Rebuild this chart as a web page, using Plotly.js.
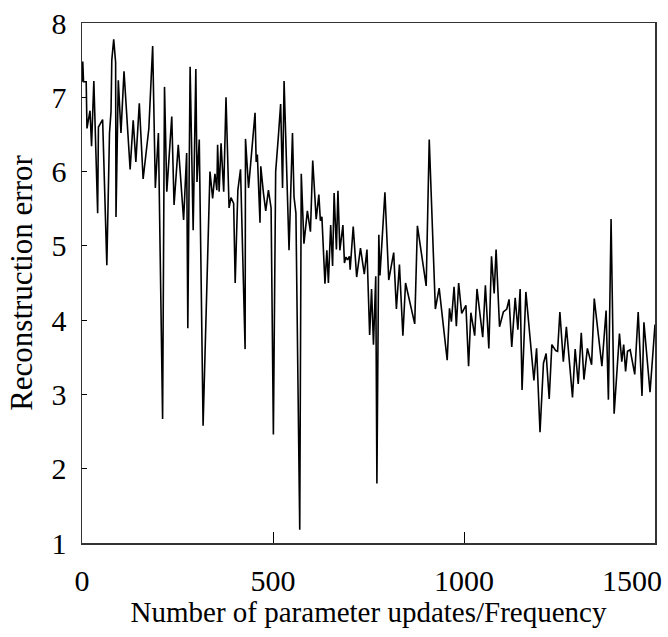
<!DOCTYPE html>
<html>
<head>
<meta charset="utf-8">
<script src="https://cdn.plot.ly/plotly-3.0.1.min.js"></script>
<style>html,body{margin:0;padding:0;background:#fff;}#chart{width:668px;height:637px;}</style>
</head>
<body>
<div id="chart"></div>
<script>
// Number of parameter updates (x) and reconstruction error (y)
const updates = [0,2,4,11,13,21,25,31,41,43,54,65,72,76,78,83,88,89,95,102,110,126,134,141,150,160,175,185,192,200,211,216,222,235,241,252,266,274,277,283,291,298,301,307,317,335,342,348,353,355,359,364,371,377,385,390,397,401,408,415,427,428,436,444,453,456,459,466,468,475,481,488,495,501,507,514,520,525,529,542,551,555,560,570,572,574,581,590,598,604,613,620,624,628,636,641,645,651,656,660,666,670,675,683,687,691,695,700,702,710,719,729,739,746,753,758,763,769,772,777,780,793,803,816,818,823,831,840,847,871,878,901,909,925,935,956,962,967,974,980,986,994,1005,1012,1018,1028,1034,1049,1056,1065,1072,1079,1084,1093,1103,1112,1118,1125,1134,1141,1147,1152,1162,1183,1190,1199,1208,1215,1223,1230,1240,1245,1251,1260,1268,1284,1291,1299,1307,1314,1323,1334,1341,1361,1372,1378,1385,1393,1407,1413,1418,1423,1428,1435,1447,1456,1466,1471,1487,1500];
const recError = [7.21,7.48,7.21,7.21,6.58,6.82,6.34,7.22,5.44,6.60,6.70,4.74,6.52,6.81,7.50,7.78,7.47,5.39,7.23,6.52,7.35,6.03,6.69,6.13,6.92,5.90,6.58,7.69,5.78,6.52,2.67,7.14,5.73,6.74,5.55,6.36,5.35,6.25,3.89,7.41,5.21,7.38,5.86,6.43,2.58,6.00,5.64,5.97,5.75,6.36,5.73,6.38,5.73,7.00,5.51,5.65,5.57,4.50,5.75,6.03,3.61,6.44,5.78,6.25,6.79,6.13,6.23,5.31,6.07,5.71,5.47,5.75,5.51,2.46,6.00,6.47,6.91,5.78,7.22,4.94,6.52,5.66,5.44,1.18,4.79,5.97,5.03,5.47,5.19,6.15,5.36,5.69,5.34,5.39,4.49,4.94,4.50,5.28,4.73,5.71,4.95,5.74,4.94,5.28,4.77,4.85,4.81,4.86,4.68,5.26,4.58,4.97,4.62,4.95,3.80,4.42,3.67,4.59,1.80,5.15,4.60,5.72,4.54,4.91,4.68,4.15,4.75,3.79,4.50,3.95,5.27,4.46,6.43,4.15,4.43,3.46,4.16,3.98,4.45,3.92,4.50,4.09,4.20,3.38,4.10,3.79,4.42,3.77,4.47,3.62,4.86,4.36,4.95,3.91,4.11,4.15,4.28,3.64,4.30,3.87,4.42,3.06,4.38,3.19,3.62,2.49,3.42,3.55,2.94,3.67,3.59,3.58,4.11,3.44,3.91,2.96,3.61,3.14,3.83,3.20,3.62,3.40,4.29,3.38,4.13,2.93,5.36,2.74,3.82,3.44,3.67,3.31,3.58,3.60,3.27,4.11,2.98,3.97,3.03,3.94];
const xTickVals = [0, 500, 1000, 1500];
const xTickText = ['0', '500', '1000', ''];
const lastXLabel = '1500';
const yTickVals = [1, 2, 3, 4, 5, 6, 7, 8];
const xTitle = 'Number of parameter updates/Frequency';
const yTitle = 'Reconstruction error';

const FONT = 'Liberation Serif, Times New Roman, serif';
const trace = {
  x: updates, y: recError, type: 'scatter', mode: 'lines',
  line: {color: '#000000', width: 1.6}, hoverinfo: 'skip'
};
const layout = {
  width: 668, height: 637,
  margin: {l: 82, r: 13, t: 23, b: 94},
  paper_bgcolor: '#ffffff', plot_bgcolor: '#ffffff',
  showlegend: false,
  font: {family: FONT, size: 30, color: '#000'},
  xaxis: {
    range: [0, 1500], tickvals: xTickVals, ticktext: xTickText,
    ticks: 'inside', ticklen: 11, tickwidth: 1, tickcolor: '#000',
    showline: true, linecolor: '#333', linewidth: 1.5, mirror: true,
    showgrid: false, zeroline: false, ticklabelstandoff: 10,
    tickfont: {family: FONT, size: 30, color: '#000'},
    title: {text: xTitle, font: {family: FONT, size: 29, color: '#000'}, standoff: 0}
  },
  yaxis: {
    range: [1, 8], tickvals: yTickVals,
    ticks: 'inside', ticklen: 5, tickwidth: 1, tickcolor: '#000',
    showline: true, linecolor: '#333', linewidth: 1.5, mirror: true,
    showgrid: false, zeroline: false, ticklabelstandoff: 8,
    tickfont: {family: FONT, size: 30, color: '#000'},
    title: {text: yTitle, font: {family: FONT, size: 31, color: '#000'}, standoff: 9}
  },
  annotations: [{
    x: xTickVals[xTickVals.length - 1], xref: 'x', xanchor: 'right', xshift: 9,
    y: 0, yref: 'paper', yanchor: 'top', yshift: -19,
    text: lastXLabel, showarrow: false,
    font: {family: FONT, size: 30, color: '#000'}
  }]
};
Plotly.newPlot('chart', [trace], layout, {staticPlot: true, displayModeBar: false});
</script>
</body>
</html>
